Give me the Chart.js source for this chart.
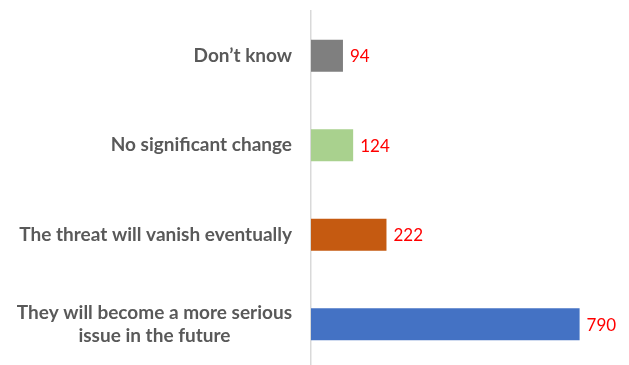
<!DOCTYPE html>
<html>
<head>
<meta charset="utf-8">
<script src="https://cdn.jsdelivr.net/npm/chart.js@4"></script>
<style>
  html, body { margin: 0; padding: 0; background: #fff; overflow: hidden; }
  #wrap { width: 629px; height: 370px; position: relative; }
</style>
</head>
<body>
<div id="wrap"><canvas id="c"></canvas></div>
<script>
// Survey answers, listed top to bottom
const categories = [
  "Don’t know",
  "No significant change",
  "The threat will vanish eventually",
  ["They will become a more serious", "issue in the future"]
];
const responses = [94, 124, 222, 790];
const barColors = ["#7F7F7F", "#A9D18E", "#C55A11", "#4472C4"];

// Category labels: block right-aligned next to the axis, wrapped lines centred
const categoryLabels = {
  id: 'categoryLabels',
  afterDraw(chart) {
    const { ctx, scales: { y } } = chart;
    ctx.save();
    ctx.font = 'bold 19px Lato';
    ctx.fillStyle = '#595959';
    ctx.textBaseline = 'middle';
    ctx.textAlign = 'center';
    const right = y.right - 19;
    const lineH = 23;
    categories.forEach((lab, i) => {
      const lines = Array.isArray(lab) ? lab : [lab];
      const w = Math.max(...lines.map(l => ctx.measureText(l).width));
      const cx = right - w / 2;
      const cy = y.getPixelForValue(i);
      const y0 = cy - (lines.length - 1) * lineH / 2;
      lines.forEach((l, k) => ctx.fillText(l, cx, y0 + k * lineH));
    });
    ctx.restore();
  }
};

// Value labels at the end of each bar
const valueLabels = {
  id: 'valueLabels',
  afterDatasetsDraw(chart) {
    const { ctx } = chart;
    const meta = chart.getDatasetMeta(0);
    ctx.save();
    ctx.font = '17px Lato';
    ctx.fillStyle = '#FF0000';
    ctx.textBaseline = 'middle';
    ctx.textAlign = 'left';
    meta.data.forEach((bar, i) => {
      ctx.fillText(String(responses[i]), bar.x + 7, bar.y + 1);
    });
    ctx.restore();
  }
};

new Chart(document.getElementById('c'), {
  type: 'bar',
  data: {
    labels: categories,
    datasets: [{
      data: responses,
      backgroundColor: barColors,
      borderWidth: 0,
      categoryPercentage: 1,
      barPercentage: 0.36
    }]
  },
  options: {
    indexAxis: 'y',
    responsive: true,
    maintainAspectRatio: false,
    animation: false,
    layout: { padding: { top: 11, bottom: 1, left: 0, right: 12 } },
    plugins: { legend: { display: false }, tooltip: { enabled: false } },
    scales: {
      x: { display: false, min: 0, max: 900 },
      y: {
        grid: { display: false },
        border: { display: true, color: '#D9D9D9', width: 1.5 },
        ticks: { display: false },
        afterFit(scale) { scale.width = 311; }
      }
    }
  },
  plugins: [categoryLabels, valueLabels]
});
</script>
</body>
</html>
